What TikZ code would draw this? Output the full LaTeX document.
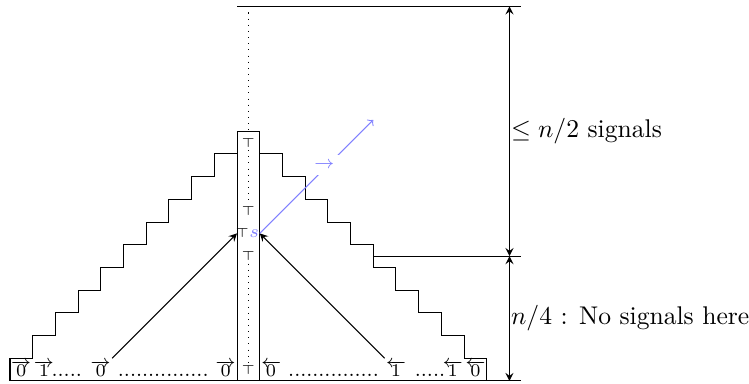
\documentclass[tikz,border=0pt]{standalone}
\usepackage{xcolor}
\tikzset{
  topsym/.style={font=\tiny,inner sep=1pt},
  cell/.style={font=\scriptsize,anchor=base,inner sep=0pt},
  dotrow/.style={font=\footnotesize,anchor=base,inner sep=0pt},
  dimlabel/.style={anchor=west,inner sep=0pt}
}
\begin{document}
\begin{tikzpicture}[x=8.87pt,y=8.87pt]
\useasboundingbox (-0.44,-0.09) rectangle (32.55,16.78);

\draw (0,0) -- (22.5,0);
\draw (10,16.5) -- (22.5,16.5);
\draw (16,5.5) -- (22.5,5.5);
\draw (10,0) rectangle (11,11);
\draw (0,0) \foreach \i in {0,...,9}{ -- (\i,\i+1) -- (\i+1,\i+1) };
\draw (11,10) \foreach \i in {0,...,9}{ -- (12+\i,10-\i) -- (12+\i,9-\i) };

\coordinate (top) at (10.5,16.5);
\node[topsym] (t1) at (10.5,10.5) {$\top$};
\node[topsym] (t2) at (10.5,7.5) {$\top$};
\node[topsym] (ts) at (10.45,6.5) {$\top$\textcolor{blue!50}{\scriptsize$s$}};
\node[topsym] (t3) at (10.5,5.5) {$\top$};
\node[topsym] (t4) at (10.5,0.5) {$\top$};
\draw[dotted] (top) -- (t1);
\draw[dotted] (t1) -- (t2);
\draw[dotted] (t3) -- (t4);

\node[cell] (l1) at (0.5,0.19) {$\overrightarrow{0}$};
\node[cell] (l2) at (1.5,0.19) {$\overrightarrow{1}$};
\node[dotrow] (ld1) at (2.5,0.19) {.....};
\node[cell] (l3) at (4,0.19) {$\overrightarrow{0}$};
\node[dotrow] (ld2) at (6.75,0.19) {...............};
\node[cell] (l4) at (9.5,0.19) {$\overrightarrow{0}$};
\node[cell] (r1) at (11.5,0.19) {$\overleftarrow{0}$};
\node[dotrow] (rd2) at (14.25,0.19) {...............};
\node[cell] (r2) at (17,0.19) {$\overleftarrow{1}$};
\node[dotrow] (rd1) at (18.5,0.19) {.....};
\node[cell] (r3) at (19.5,0.19) {$\overleftarrow{1}$};
\node[cell] (r4) at (20.5,0.19) {$\overleftarrow{0}$};

\coordinate (al) at (4.5,1);
\coordinate (ar) at (16.5,1);
\coordinate (sl) at (10,6.5);
\coordinate (sr) at (11,6.5);
\coordinate (sig) at (16,11.5);
\draw[-stealth] (al) -- (sl);
\draw[-stealth] (ar) -- (sr);
\draw[blue!50,->] (sr) -- node[pos=0.57,fill=white,font=\scriptsize,inner sep=2.5pt,yshift=1.5pt] (dir) {$\rightarrow$} (sig);

\coordinate (d0) at (22,0);
\coordinate (d1) at (22,5.5);
\coordinate (d2) at (22,16.5);
\draw[stealth-stealth] (d2) -- (d1);
\draw[stealth-stealth] (d1) -- (d0);
\node[dimlabel] (up) at (22.05,11) {$\leq n/2$ signals};
\node[dimlabel] (low) at (22.05,2.75) {$n/4$ : No signals here};
\end{tikzpicture}
\end{document}
